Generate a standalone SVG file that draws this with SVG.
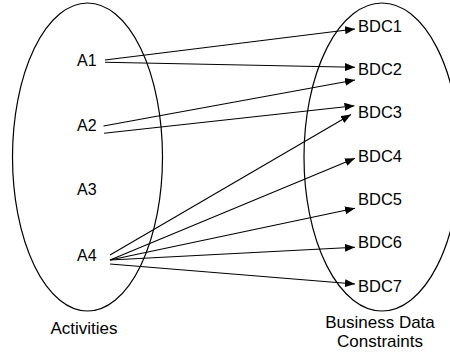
<svg xmlns="http://www.w3.org/2000/svg" width="450" height="356" viewBox="0 0 450 356">
<style>
text{font-family:"Liberation Sans",Arial,sans-serif;fill:#000}
.a{font-size:16px}
.b{font-size:16.5px}
.c{font-size:17px;text-anchor:middle}
.e{fill:none;stroke:#000;stroke-width:1.2}
.l{fill:none;stroke:#000;stroke-width:1.1;marker-end:url(#ah)}
</style>
<defs>
<marker id="ah" markerUnits="userSpaceOnUse" markerWidth="10" markerHeight="8" refX="10" refY="4" orient="auto">
<path d="M0,0 L10,4 L0,8 Z" fill="#000"/>
</marker>
</defs>
<rect width="450" height="356" fill="#fff"/>
<g id="activities">
<ellipse class="e" cx="87.5" cy="157" rx="75" ry="154"/>
<text class="c" x="84" y="334">Activities</text>
</g>
<g id="constraints">
<ellipse class="e" cx="382" cy="157" rx="78" ry="154"/>
<text class="c" x="380" y="328">Business Data</text>
<text class="c" x="380" y="347">Constraints</text>
</g>
<g id="A1"><text class="a" x="77" y="66">A1</text></g>
<g id="A2"><text class="a" x="77" y="131">A2</text></g>
<g id="A3"><text class="a" x="77" y="195">A3</text></g>
<g id="A4"><text class="a" x="77" y="260.5">A4</text></g>
<g id="BDC1"><text class="b" x="358" y="31.5">BDC1</text></g>
<g id="BDC2"><text class="b" x="358" y="75">BDC2</text></g>
<g id="BDC3"><text class="b" x="358" y="118.3">BDC3</text></g>
<g id="BDC4"><text class="b" x="358" y="161.7">BDC4</text></g>
<g id="BDC5"><text class="b" x="358" y="205">BDC5</text></g>
<g id="BDC6"><text class="b" x="358" y="248.3">BDC6</text></g>
<g id="BDC7"><text class="b" x="358" y="291.7">BDC7</text></g>
<g id="connectors">
<line class="l" x1="105" y1="60" x2="355" y2="29"/>
<line class="l" x1="105" y1="62.3" x2="355" y2="67.3"/>
<line class="l" x1="103.5" y1="126" x2="355" y2="80"/>
<line class="l" x1="104" y1="133.3" x2="354.5" y2="105.7"/>
<line class="l" x1="110" y1="255" x2="351" y2="114.5"/>
<line class="l" x1="110" y1="260" x2="355" y2="158.3"/>
<line class="l" x1="110" y1="260" x2="355" y2="208.3"/>
<line class="l" x1="110" y1="260" x2="355" y2="247.3"/>
<line class="l" x1="110" y1="264" x2="355" y2="284"/>
</g>
</svg>
